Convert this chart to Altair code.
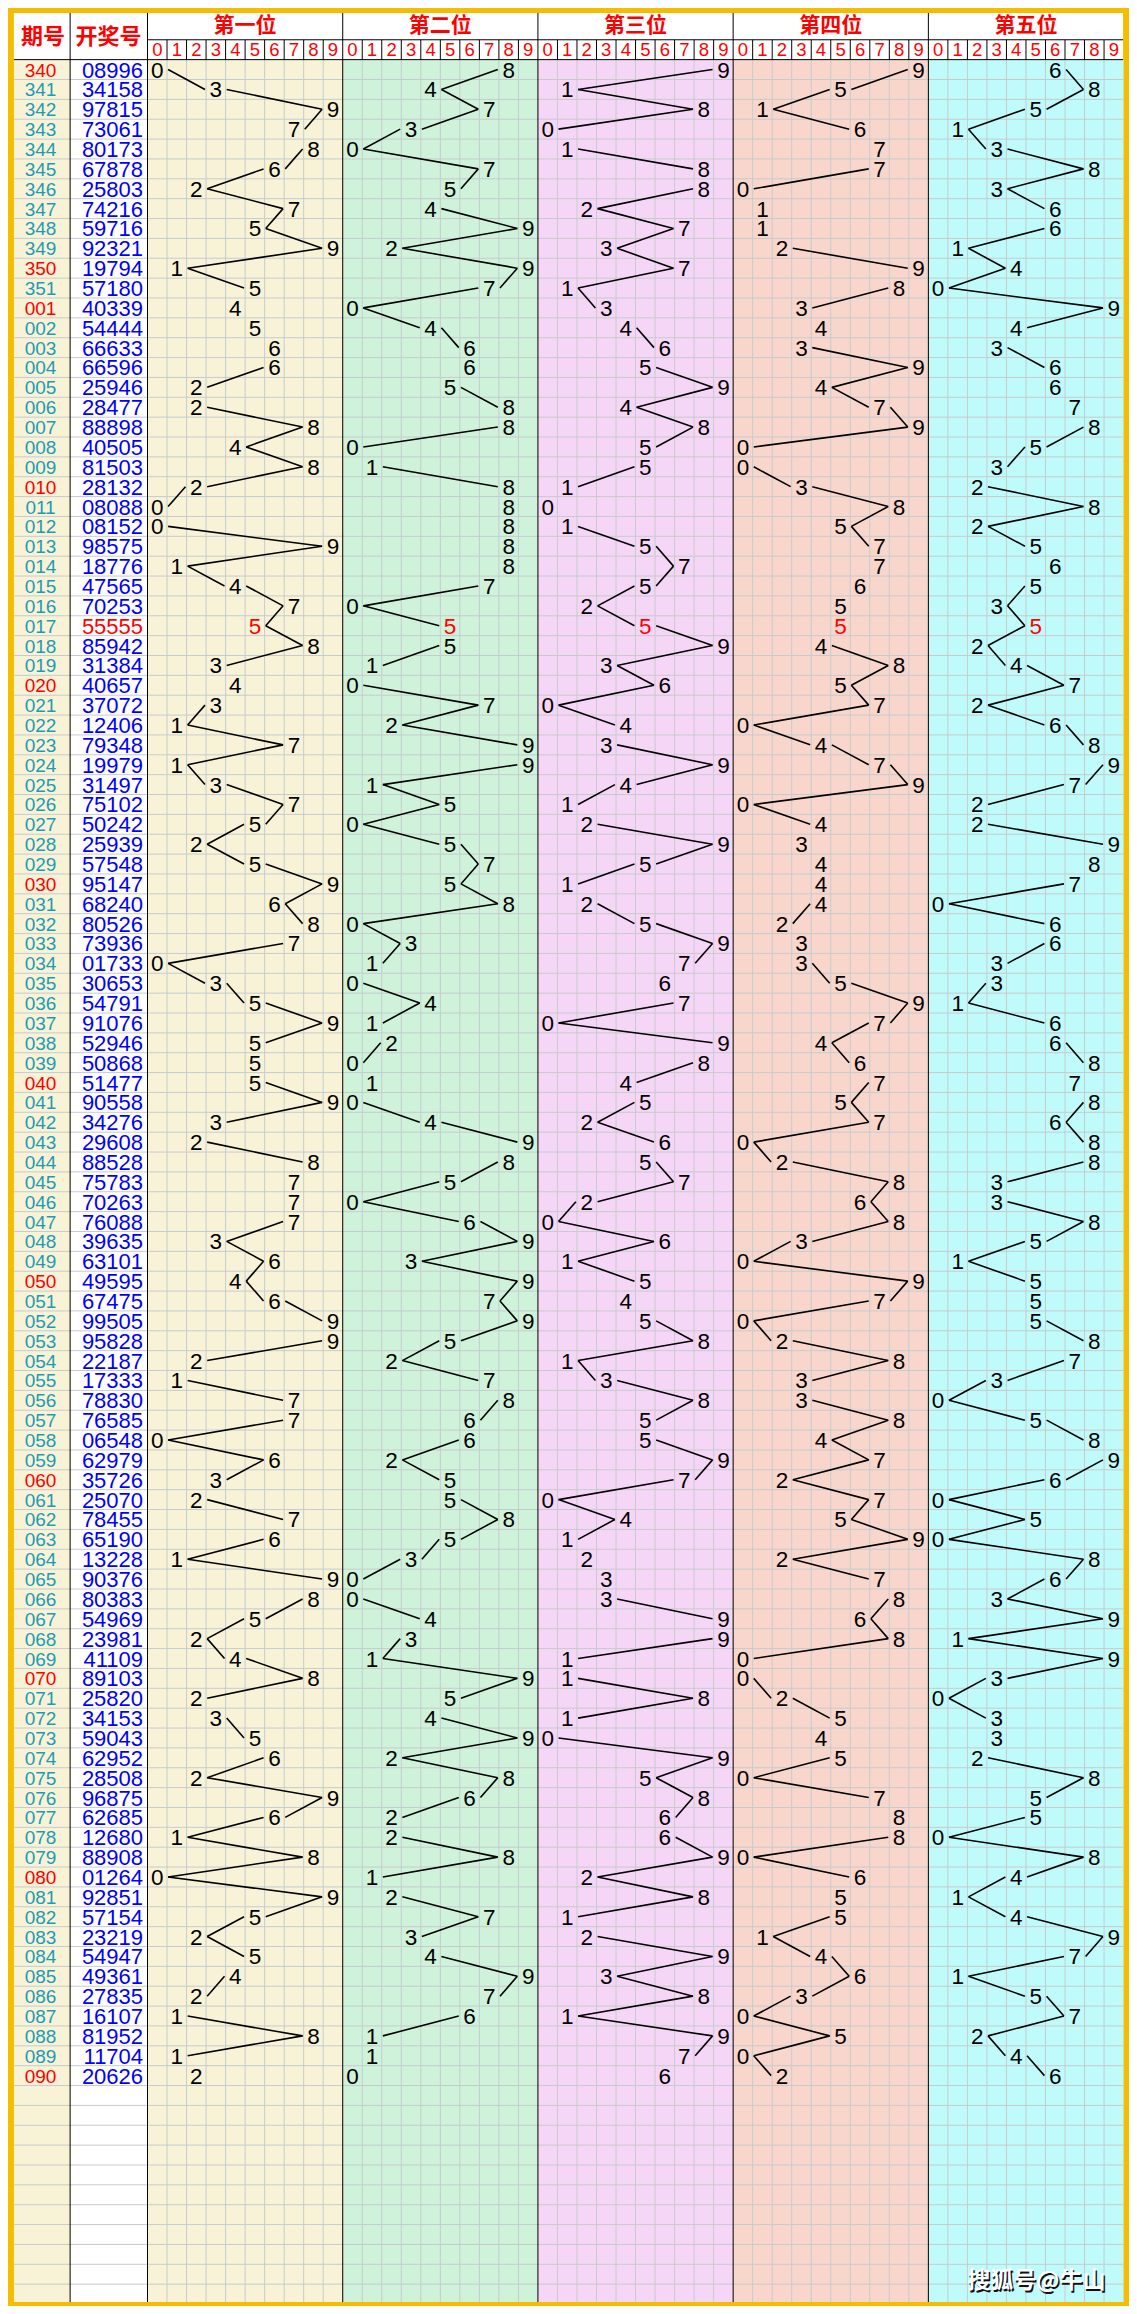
import altair as alt
import pandas as pd

# ---------------- data ----------------
periods = ["340", "341", "342", "343", "344", "345", "346", "347", "348", "349", "350", "351"] + \
    [f"{i:03d}" for i in range(1, 91)]
draws = [
    "08996", "34158", "97815", "73061", "80173", "67878", "25803", "74216", "59716", "92321",
    "19794", "57180", "40339", "54444", "66633", "66596", "25946", "28477", "88898", "40505",
    "81503", "28132", "08088", "08152", "98575", "18776", "47565", "70253", "55555", "85942",
    "31384", "40657", "37072", "12406", "79348", "19979", "31497", "75102", "50242", "25939",
    "57548", "95147", "68240", "80526", "73936", "01733", "30653", "54791", "91076", "52946",
    "50868", "51477", "90558", "34276", "29608", "88528", "75783", "70263", "76088", "39635",
    "63101", "49595", "67475", "99505", "95828", "22187", "17333", "78830", "76585", "06548",
    "62979", "35726", "25070", "78455", "65190", "13228", "90376", "80383", "54969", "23981",
    "41109", "89103", "25820", "34153", "59043", "62952", "28508", "96875", "62685", "12680",
    "88908", "01264", "92851", "57154", "23219", "54947", "49361", "27835", "16107", "81952",
    "11704", "20626",
]
red_periods = ["340", "350", "001", "010", "020", "030", "040", "050", "060", "070", "080", "090"]
highlight_draws = ["55555"]
panel_titles = ["第一位", "第二位", "第三位", "第四位", "第五位"]
digit_labels = [str(d) for d in range(10)]
header_labels = ["期号", "开奖号"]
watermark = "搜狐号@牛山"

# ---------------- layout (reference pixel space) ----------------
W, H = 1137, 2314
L, T, R, B = 6, 5, 1131, 2310
C1, C2 = 63, 141.5
PW, CW = 198, 19.8
Y_TITLE, Y_HEAD = 32, 52
RH = 20

orange = "#F6BC00"
cream = "#F8F3D7"
panel_colors = ["#F8F3D7", "#CEF3DA", "#F6D6F6", "#F9D6CC", "#C0FBFB"]
grid_gray = "#C6CBCE"
teal = "#1E9BB4"


def cx(p, d):
    return C2 + p * PW + d * CW + CW / 2


def cy(i):
    return Y_HEAD + i * RH + RH / 2


XS = alt.Scale(domain=[0, W], nice=False, zero=False)
YS = alt.Scale(domain=[0, H], nice=False, zero=False, reverse=True)

# background rects
rects = [dict(x=0, x2=W, y=0, y2=H, c=orange),
         dict(x=L, x2=C1, y=T, y2=B, c=cream),
         dict(x=C1, x2=C2, y=T, y2=B, c="#FFFFFF")]
for p in range(5):
    rects.append(dict(x=C2 + p * PW, x2=C2 + (p + 1) * PW, y=Y_HEAD, y2=B, c=panel_colors[p]))
rects.append(dict(x=L, x2=R, y=T, y2=Y_HEAD, c="#FFFFFF"))
rect_df = pd.DataFrame(rects)

# grid rules
rules = []
k = 1
while Y_HEAD + k * RH < B:
    rules.append(dict(x=L, x2=R, y=Y_HEAD + k * RH, y2=Y_HEAD + k * RH, c=grid_gray, w=1))
    k += 1
for p in range(5):
    for d in range(1, 10):
        xx = C2 + p * PW + d * CW
        rules.append(dict(x=xx, x2=xx, y=Y_HEAD, y2=B, c=grid_gray, w=1))
        rules.append(dict(x=xx, x2=xx, y=Y_TITLE, y2=Y_HEAD, c="#000000", w=1))
for xx in [C1] + [C2 + p * PW for p in range(5)]:
    rules.append(dict(x=xx, x2=xx, y=T, y2=B, c="#000000", w=1))
rules.append(dict(x=L, x2=R, y=Y_HEAD, y2=Y_HEAD, c="#000000", w=1))
rules.append(dict(x=C2, x2=R, y=Y_TITLE, y2=Y_TITLE, c="#000000", w=1))
rule_df = pd.DataFrame(rules)

# connecting segments: from the side of one digit to the side of the next, at row centres
OFF = 11
segs = []
for p in range(5):
    for i in range(len(draws) - 1):
        d1, d2 = int(draws[i][p]), int(draws[i + 1][p])
        if abs(d2 - d1) <= 1:
            continue
        s = 1 if d2 > d1 else -1
        segs.append(dict(x=cx(p, d1) + s * OFF, y=cy(i), x2=cx(p, d2) - s * OFF, y2=cy(i + 1)))
seg_df = pd.DataFrame(segs)

# texts
digits_rows = []
for i, s in enumerate(draws):
    col = "#FF0000" if s in highlight_draws else "#000000"
    for p in range(5):
        d = int(s[p])
        digits_rows.append(dict(x=cx(p, d), y=cy(i) + 1, t=str(d), c=col))
digit_df = pd.DataFrame(digits_rows)

period_df = pd.DataFrame([dict(x=33, y=cy(i) + 1, t=pr, c=("#FF0000" if pr in red_periods else teal))
                          for i, pr in enumerate(periods)])
draw_df = pd.DataFrame([dict(x=137, y=cy(i) + 1, t=s, c=("#FF0000" if s in highlight_draws else "#0000FF"))
                        for i, s in enumerate(draws)])
head_df = pd.DataFrame([dict(x=35.5, y=29, t=header_labels[0]), dict(x=102, y=29, t=header_labels[1])])
title_df = pd.DataFrame([dict(x=C2 + p * PW + PW / 2, y=18.5, t=panel_titles[p]) for p in range(5)])
dh_df = pd.DataFrame([dict(x=cx(p, d), y=42.5, t=digit_labels[d]) for p in range(5) for d in range(10)])
wm_df = pd.DataFrame([dict(x=1043, y=2289, t=watermark)])


def enc_xy():
    return dict(x=alt.X("x:Q", scale=XS, axis=None), y=alt.Y("y:Q", scale=YS, axis=None))


bg = alt.Chart(rect_df).mark_rect().encode(
    x=alt.X("x:Q", scale=XS, axis=None), x2="x2:Q",
    y=alt.Y("y:Q", scale=YS, axis=None), y2="y2:Q",
    color=alt.Color("c:N", scale=None))

grid = alt.Chart(rule_df).mark_rule().encode(
    x=alt.X("x:Q", scale=XS, axis=None), x2="x2:Q",
    y=alt.Y("y:Q", scale=YS, axis=None), y2="y2:Q",
    color=alt.Color("c:N", scale=None),
    strokeWidth=alt.StrokeWidth("w:Q", scale=None))

lines = alt.Chart(seg_df).mark_rule(color="#000000", strokeWidth=1.6).encode(
    x=alt.X("x:Q", scale=XS, axis=None), x2="x2:Q",
    y=alt.Y("y:Q", scale=YS, axis=None), y2="y2:Q")

digits = alt.Chart(digit_df).mark_text(font="Liberation Sans", fontSize=22.5, baseline="middle",
                                       align="center").encode(
    **enc_xy(), text="t:N", color=alt.Color("c:N", scale=None))

period_txt = alt.Chart(period_df).mark_text(font="Liberation Sans", fontSize=19, baseline="middle",
                                            align="center").encode(
    **enc_xy(), text="t:N", color=alt.Color("c:N", scale=None))

draw_txt = alt.Chart(draw_df).mark_text(font="Liberation Sans", fontSize=22, baseline="middle",
                                        align="right").encode(
    **enc_xy(), text="t:N", color=alt.Color("c:N", scale=None))

head_txt = alt.Chart(head_df).mark_text(font="Noto Sans CJK SC", fontSize=22, fontWeight="bold",
                                        color="#FF0000", baseline="middle", align="center").encode(
    **enc_xy(), text="t:N")

title_txt = alt.Chart(title_df).mark_text(font="Noto Sans CJK SC", fontSize=21, fontWeight="bold",
                                          color="#FF0000", baseline="middle", align="center").encode(
    **enc_xy(), text="t:N")

dh_txt = alt.Chart(dh_df).mark_text(font="Liberation Sans", fontSize=18.5, color="#FF0000",
                                    baseline="middle", align="center").encode(
    **enc_xy(), text="t:N")

wm_shadow = alt.Chart(wm_df).mark_text(font="Noto Sans CJK SC", fontSize=23, fontWeight="bold",
                                       color="#111111", dx=1.5, dy=1.5,
                                       baseline="middle", align="center").encode(
    **enc_xy(), text="t:N")
wm_txt = alt.Chart(wm_df).mark_text(font="Noto Sans CJK SC", fontSize=23, fontWeight="bold",
                                    color="#FFFFFF", baseline="middle", align="center").encode(
    **enc_xy(), text="t:N")

chart = alt.layer(bg, grid, lines, digits, period_txt, draw_txt, head_txt, title_txt, dh_txt,
                  wm_shadow, wm_txt).properties(
    width=1121, height=2298, padding=0,
    autosize=alt.AutoSizeParams(type="none"),
    background="#FFFFFF",
).configure_view(stroke=None)

chart.save("out.html", embed_options={"renderer": "svg", "actions": False})
